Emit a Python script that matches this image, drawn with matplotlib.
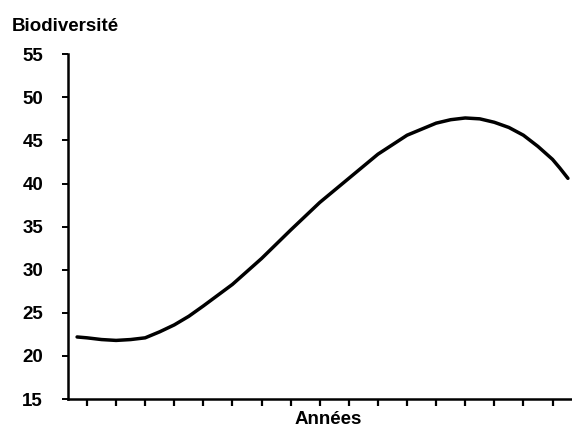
import matplotlib
matplotlib.use("Agg")
import matplotlib.pyplot as plt

# values (x = year index, tick positions 1..17)
annees = [0.66, 1, 1.5, 2, 2.5, 3, 3.5, 4, 4.5, 5, 6, 7, 8, 9, 10, 11, 12,
          13, 13.5, 14, 14.5, 15, 15.5, 16, 16.5, 17, 17.25, 17.53]
biodiversite = [22.2, 22.1, 21.9, 21.8, 21.9, 22.1, 22.8, 23.6, 24.6, 25.8,
                28.3, 31.3, 34.6, 37.8, 40.6, 43.4, 45.6,
                47.0, 47.4, 47.6, 47.5, 47.1, 46.5, 45.6, 44.3, 42.8, 41.8, 40.6]
x_ticks = list(range(1, 18))
y_ticks = [15, 20, 25, 30, 35, 40, 45, 50, 55]

plt.rcParams['font.family'] = ['Liberation Sans', 'DejaVu Sans']

fig = plt.figure(figsize=(5.72, 4.30), dpi=100)
ax = fig.add_axes([0.119, 0.072, 0.881, 0.802])

ax.plot(annees, biodiversite, color='black', linewidth=2.5,
        solid_capstyle='round', solid_joinstyle='round')

ax.set_xlim(0.35, 17.67)
ax.set_ylim(15, 55)
ax.set_xticks(x_ticks)
ax.set_xticklabels([])
ax.set_yticks(y_ticks)
ax.set_yticklabels([str(v) for v in y_ticks], fontweight='bold', fontsize=13.5)

ax.spines['top'].set_visible(False)
ax.spines['right'].set_visible(False)
ax.spines['left'].set_linewidth(1.8)
ax.spines['bottom'].set_linewidth(1.8)
ax.tick_params(axis='x', direction='out', length=5, width=1.6)
ax.tick_params(axis='y', direction='out', length=4, width=1.4, pad=14)

fig.text(0.021, 0.938, 'Biodiversité', fontweight='bold', fontsize=13.5,
         ha='left', va='center')
fig.text(0.573, 0.005, 'Années', fontweight='bold', fontsize=13.5,
         ha='center', va='bottom')

fig.savefig('out.png', dpi=100)
